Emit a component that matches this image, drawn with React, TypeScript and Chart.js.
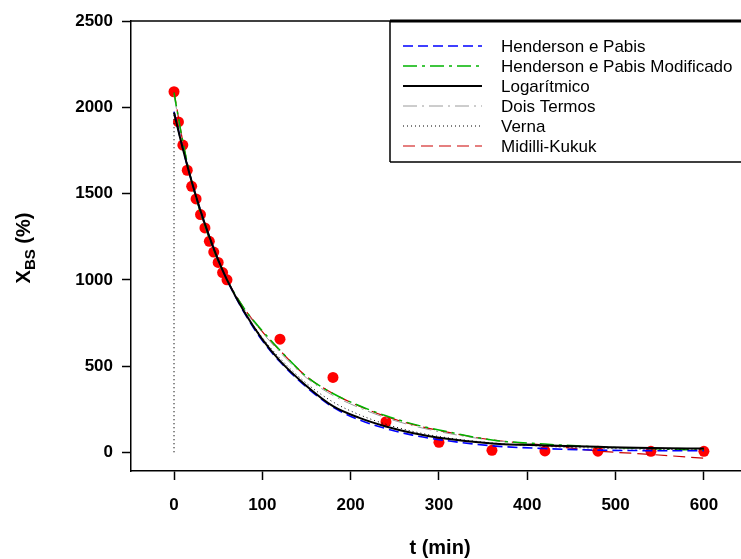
import React, { useEffect, useRef } from "react";
import { Chart, registerables } from "chart.js";

Chart.register(...registerables);

// ---- data ----
const obsT = [0, 5, 10, 15, 20, 25, 30, 35, 40, 45, 50, 55, 60, 120, 180, 240, 300, 360, 420, 480, 540, 600];
const obsX = [2090, 1915, 1781, 1635, 1542, 1469, 1378, 1301, 1223, 1161, 1101, 1042, 1000, 656, 434, 178, 58, 12, 8, 7, 6, 6];

const modelT = [0, 10, 20, 30, 40, 50, 60, 80, 100, 120, 150, 180, 210, 240, 270, 300, 360, 420, 480, 540, 600];
const hendersonPabis = [1975, 1760, 1570, 1400, 1250, 1115, 1000, 805, 648, 525, 378, 262, 188, 138, 100, 74, 38, 22, 13, 10, 9];
const hendersonPabisMod = [2085, 1800, 1570, 1390, 1240, 1110, 1000, 830, 705, 592, 440, 341, 270, 212, 165, 130, 72, 48, 32, 22, 12];
const logaritmico = [1970, 1760, 1570, 1400, 1250, 1115, 1000, 810, 655, 530, 385, 268, 200, 150, 112, 85, 52, 40, 32, 25, 22];
const doisTermos = [2070, 1790, 1565, 1390, 1240, 1110, 1000, 825, 695, 580, 432, 330, 258, 200, 155, 120, 70, 45, 32, 25, 22];
const verna = [1965, 1760, 1570, 1405, 1255, 1120, 1000, 815, 665, 545, 400, 292, 218, 163, 122, 92, 55, 35, 24, 18, 15];
const midilliKukuk = [2090, 1800, 1570, 1390, 1240, 1110, 1000, 830, 700, 590, 440, 341, 268, 208, 162, 127, 72, 42, 8, -12, -34];

const xTicks = [0, 100, 200, 300, 400, 500, 600];
const yTicks = [0, 500, 1000, 1500, 2000, 2500];

const seriesLabels = [
  "Henderson e Pabis",
  "Henderson e Pabis Modificado",
  "Logarítmico",
  "Dois Termos",
  "Verna",
  "Midilli-Kukuk",
];
const seriesValues = [hendersonPabis, hendersonPabisMod, logaritmico, doisTermos, verna, midilliKukuk];

// ---- styles ----
const FONT = '"Liberation Sans", Arial, sans-serif';
const seriesStyles = [
  { color: "#0000ff", dash: [10, 5], width: 1.6, order: 2 },
  { color: "#00b400", dash: [14, 5, 3, 5], width: 1.5, order: 4 },
  { color: "#000000", dash: [], width: 2, order: 1 },
  { color: "#9a9a9a", dash: [14, 5, 2, 5], width: 1, order: 5 },
  { color: "#000000", dash: [1, 3], width: 1, order: 3 },
  { color: "#cc0000", dash: [12, 6], width: 1.2, order: 6 },
];

const decorPlugin = {
  id: "decor",
  afterDraw(chart: any) {
    const { ctx, chartArea: ca } = chart;
    ctx.save();
    // top frame line
    ctx.strokeStyle = "#000";
    ctx.lineWidth = 1.5;
    ctx.setLineDash([]);
    ctx.beginPath();
    ctx.moveTo(ca.left, ca.top);
    ctx.lineTo(ca.right, ca.top);
    ctx.stroke();

    // legend box
    const lx = 390;
    const ly = ca.top;
    const lr = ca.right + 2;
    const lb = 162;
    ctx.lineWidth = 1.5;
    ctx.beginPath();
    ctx.moveTo(lx, lb);
    ctx.lineTo(lx, ly);
    ctx.moveTo(lx, lb);
    ctx.lineTo(lr, lb);
    ctx.stroke();
    ctx.lineWidth = 3;
    ctx.beginPath();
    ctx.moveTo(lx, ly);
    ctx.lineTo(ca.right, ly);
    ctx.stroke();

    ctx.font = `17px ${FONT}`;
    ctx.textBaseline = "middle";
    ctx.textAlign = "left";
    seriesLabels.forEach((label, i) => {
      const st = seriesStyles[i];
      const y = 46 + i * 20;
      ctx.strokeStyle = st.color;
      ctx.lineWidth = st.width;
      ctx.setLineDash(st.dash);
      ctx.beginPath();
      ctx.moveTo(403, y);
      ctx.lineTo(482, y);
      ctx.stroke();
      ctx.setLineDash([]);
      ctx.fillStyle = "#000";
      ctx.fillText(label, 501, y + 1);
    });

    // x axis title
    ctx.fillStyle = "#000";
    ctx.font = `bold 20px ${FONT}`;
    ctx.textAlign = "center";
    ctx.textBaseline = "middle";
    ctx.fillText("t (min)", (ca.left + ca.right) / 2 + 4, 548);

    // y axis title with subscript
    ctx.translate(23, (ca.top + ca.bottom) / 2 + 2);
    ctx.rotate(-Math.PI / 2);
    const big = `bold 20px ${FONT}`;
    const small = `bold 15px ${FONT}`;
    ctx.font = big;
    const wX = ctx.measureText("X").width;
    const wP = ctx.measureText(" (%)").width;
    ctx.font = small;
    const wB = ctx.measureText("BS").width;
    let x0 = -(wX + wB + wP) / 2;
    ctx.textAlign = "left";
    ctx.textBaseline = "alphabetic";
    ctx.font = big;
    ctx.fillText("X", x0, 7);
    x0 += wX;
    ctx.font = small;
    ctx.fillText("BS", x0, 12);
    x0 += wB;
    ctx.font = big;
    ctx.fillText(" (%)", x0, 7);
    ctx.restore();
  },
};

export default function App() {
  const ref = useRef<HTMLCanvasElement | null>(null);

  useEffect(() => {
    document.body.style.margin = "0";
    const canvas = ref.current;
    if (!canvas) return;

    const datasets: any[] = [];
    seriesValues.forEach((vals, i) => {
      const st = seriesStyles[i];
      datasets.push({
        label: seriesLabels[i],
        data: modelT.map((t, j) => ({ x: t, y: vals[j] })),
        borderColor: st.color,
        borderWidth: st.width,
        borderDash: st.dash,
        pointRadius: 0,
        fill: false,
        cubicInterpolationMode: "monotone",
        order: st.order,
      });
    });
    // Verna's vertical start segment at t = 0
    datasets.push({
      label: "Verna (t=0)",
      data: [
        { x: modelT[0], y: 0 },
        { x: modelT[0], y: verna[0] },
      ],
      borderColor: seriesStyles[4].color,
      borderWidth: 1.2,
      borderDash: seriesStyles[4].dash,
      pointRadius: 0,
      fill: false,
      order: 3,
    });
    datasets.push({
      label: "Experimental",
      data: obsT.map((t, j) => ({ x: t, y: obsX[j] })),
      showLine: false,
      pointRadius: 5.5,
      pointHoverRadius: 5.5,
      pointBackgroundColor: "#ff0000",
      pointBorderColor: "#ff0000",
      pointBorderWidth: 0,
      order: 10,
    });

    const tickFont = { family: FONT, size: 17, weight: "bold" as const };

    const chart = new Chart(canvas, {
      type: "line",
      data: { datasets },
      plugins: [decorPlugin],
      options: {
        animation: false,
        responsive: false,
        devicePixelRatio: 1,
        layout: { autoPadding: false, padding: { top: 21, right: 0, left: 0, bottom: 0 } },
        plugins: {
          legend: { display: false },
          tooltip: { enabled: false },
          title: { display: false },
        },
        scales: {
          x: {
            type: "linear",
            min: -48.7,
            max: 642,
            afterBuildTicks: (s: any) => {
              s.ticks = xTicks.map((v) => ({ value: v }));
            },
            afterFit: (s: any) => {
              s.height = 88;
            },
            grid: {
              drawOnChartArea: false,
              drawTicks: true,
              tickLength: 9,
              tickColor: "#000",
              tickWidth: 1.5,
            },
            border: { display: true, color: "#000", width: 1.5 },
            ticks: {
              color: "#000",
              font: tickFont,
              padding: 15,
              maxRotation: 0,
              autoSkip: false,
              callback: (v: any) => String(v),
            },
          },
          y: {
            type: "linear",
            min: -108,
            max: 2500,
            afterBuildTicks: (s: any) => {
              s.ticks = yTicks.map((v) => ({ value: v }));
            },
            afterFit: (s: any) => {
              s.width = 131;
            },
            grid: {
              drawOnChartArea: false,
              drawTicks: true,
              tickLength: 9,
              tickColor: "#000",
              tickWidth: 1.5,
            },
            border: { display: true, color: "#000", width: 1.5 },
            ticks: {
              color: "#000",
              font: tickFont,
              padding: 9,
              autoSkip: false,
              callback: (v: any) => String(v),
            },
          },
        },
      },
    });

    return () => chart.destroy();
  }, []);

  return (
    <div style={{ width: 741, height: 559, position: "relative" }}>
      <canvas ref={ref} width={741} height={559} style={{ display: "block" }} />
    </div>
  );
}
